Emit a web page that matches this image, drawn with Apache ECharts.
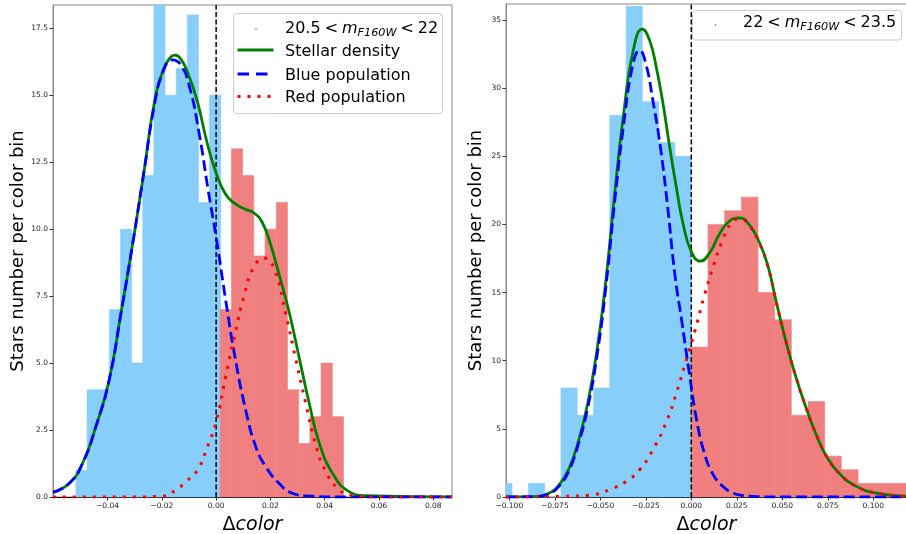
<!DOCTYPE html>
<html><head><meta charset="utf-8">
<script src="https://cdn.jsdelivr.net/npm/echarts@6/dist/echarts.min.js"></script>
<style>html,body{margin:0;padding:0;background:#fff}#c{width:906px;height:534px}</style>
</head><body><div id="c"></div>
<script>
// ---------- Left panel: 20.5 < m_F160W < 22 ----------
const leftBlueEdges = [-0.05165,-0.04755,-0.04344,-0.03934,-0.03523,-0.03113,-0.02703,-0.02292,-0.01882,-0.01471,-0.01061,-0.00651,-0.00240,0.00170];
const leftBlueCounts = [1,4,4,7,10,5,12,19,15,16,18,11,15];
const leftRedEdges = [0.0015,0.00563,0.00976,0.01389,0.01802,0.02215,0.02628,0.03041,0.03454,0.03867,0.0428,0.04693];
const leftRedCounts = [7,13,12,9,10,11,4,2,3,5,3];

const leftBlueCurveX = [-0.0601,-0.0541,-0.0492,-0.0443,-0.0394,-0.0350,-0.0310,-0.0265,-0.0228,-0.0195,-0.0161,-0.0130,-0.0099,-0.0063,-0.0030,0.0000,0.0036,0.0070,0.0110,0.0146,0.0183,0.0232,0.0281,0.035,0.045,0.0869];
const leftBlueCurveY = [0.17,0.51,1.26,2.63,4.37,6.9,9.3,12.2,14.6,15.9,16.32,16.13,15.35,13.6,11.5,9.7,7.3,5.2,3.2,1.88,1.13,0.51,0.14,0.03,0.0,0.0];

const leftRedCurveX = [-0.0601,-0.030,-0.0198,-0.0150,-0.0112,-0.0069,-0.0032,0.0000,0.0035,0.0070,0.0105,0.0140,0.0177,0.0215,0.0257,0.0294,0.0330,0.0367,0.0404,0.0453,0.050,0.060,0.0869];
const leftRedCurveY = [0.0,0.0,0.03,0.25,0.57,1.0,1.88,2.8,4.5,6.1,7.6,8.6,8.92,8.5,6.8,5.12,3.5,1.95,0.95,0.28,0.07,0.0,0.0];

const leftGreenCurveX = [-0.0601,-0.0541,-0.0492,-0.0443,-0.0394,-0.0350,-0.0310,-0.0265,-0.0228,-0.0195,-0.0170,-0.0152,-0.0130,-0.0105,-0.0070,-0.0035,0.0000,0.0035,0.0070,0.0105,0.0140,0.0170,0.0200,0.0232,0.0269,0.0306,0.0343,0.0379,0.0428,0.0490,0.055,0.0869];
const leftGreenCurveY = [0.17,0.51,1.26,2.63,4.37,6.9,9.3,12.2,14.7,15.95,16.4,16.5,16.35,15.85,14.8,13.3,12.1,11.3,10.95,10.75,10.6,10.25,9.45,8.3,6.9,5.2,3.5,2.05,0.9,0.2,0.05,0.0];

// ---------- Right panel: 22 < m_F160W < 23.5 ----------
const rightBlueEdges = [-0.1074,-0.0985,-0.0895,-0.0806,-0.0716,-0.0627,-0.0537,-0.0448,-0.0358,-0.0269,-0.0179,-0.0090,0.0];
const rightBlueCounts = [1,0,1,0,8,6,8,28,36,29,26,25];
const rightRedEdges = [0.0,0.00916,0.01832,0.02748,0.03664,0.0458,0.05496,0.06412,0.07328,0.08244,0.0916,0.10076,0.10992,0.11908];
const rightRedCounts = [11,20,21,22,15,13,6,7,3,2,1,1,1];

const rightBlueCurveX = [-0.1018,-0.0870,-0.0780,-0.0720,-0.0670,-0.0620,-0.0570,-0.0520,-0.0470,-0.0420,-0.0370,-0.0320,-0.0284,-0.0250,-0.0210,-0.0170,-0.0130,-0.0090,-0.0050,-0.0010,0.0030,0.0070,0.0110,0.0160,0.0220,0.0290,0.0380,0.050,0.1185];
const rightBlueCurveY = [0.0,0.02,0.25,0.9,2.0,3.9,6.5,10.2,15.3,21.8,27.5,31.8,32.77,31.8,29.0,25.7,21.3,16.3,12.7,9.0,5.6,3.3,1.9,0.95,0.35,0.1,0.02,0.0,0.0];

const rightRedCurveX = [-0.1018,-0.070,-0.054,-0.0449,-0.0357,-0.0284,-0.0211,-0.0137,-0.0082,-0.0027,0.0020,0.0070,0.0120,0.0170,0.0220,0.0265,0.0320,0.0375,0.0421,0.0467,0.0522,0.0577,0.0632,0.0687,0.0742,0.0815,0.0907,0.1016,0.1185];
const rightRedCurveY = [0.0,0.05,0.17,0.54,1.15,2.0,3.47,5.5,7.63,10.07,12.2,14.7,16.9,18.8,20.1,20.4,19.9,18.6,16.9,14.3,11.3,8.7,6.5,4.55,3.0,1.7,0.78,0.29,0.06];

const rightGreenCurveX = [-0.1018,-0.0870,-0.0780,-0.0720,-0.0670,-0.0620,-0.0570,-0.0520,-0.0470,-0.0420,-0.0370,-0.0320,-0.0269,-0.0229,-0.0192,-0.0156,-0.0119,-0.0082,-0.0046,0.0,0.0050,0.0100,0.0155,0.0210,0.0265,0.0320,0.0375,0.0421,0.0467,0.0522,0.0577,0.0632,0.0687,0.0742,0.0815,0.0907,0.1016,0.1185];
const rightGreenCurveY = [0.0,0.03,0.3,1.0,2.15,4.1,6.8,10.6,15.8,22.4,28.3,32.7,34.33,33.5,31.5,28.9,25.7,22.7,20.1,18.0,17.3,17.9,19.3,20.25,20.47,19.95,18.65,16.95,14.3,11.3,8.7,6.5,4.55,3.0,1.7,0.78,0.29,0.06];

const leftXTicks = [-0.04,-0.02,0.00,0.02,0.04,0.06,0.08];
const rightXTicks = [-0.100,-0.075,-0.050,-0.025,0.000,0.025,0.050,0.075,0.100];
const divider = 0.0;
const leftYMax = 18.37, rightYMax = 36.17;

const FONT = 'DejaVu Sans';
function bins(edges, counts){ return counts.map((c,i)=>[edges[i], edges[i+1], c]); }
function pts(xs, ys){ return xs.map((x,i)=>[x, ys[i]]); }
function minusFmt(d){ return v => (v < -1e-12 ? '\u2212' : '') + Math.abs(v).toFixed(d); }

function renderBar(params, api){
  const x0 = api.value(0), x1 = api.value(1), h = api.value(2);
  const p0 = api.coord([x0, 0]), p1 = api.coord([x1, h]);
  const cs = params.coordSys;
  const shape = echarts.graphic.clipRectByRect(
    {x:p0[0], y:p1[1], width:p1[0]-p0[0], height:p0[1]-p1[1]},
    {x:cs.x, y:cs.y, width:cs.width, height:cs.height});
  const c = api.visual('color');
  return shape && {type:'rect', shape:shape, style:{fill:c, stroke:c, lineWidth:0.6}};
}

function xAxisCfg(idx, min, max, ticks, dec){
  return {type:'value', gridIndex:idx, min:min, max:max,
    name:'{d|\u0394}{c|color}', nameLocation:'middle', nameGap:14.5,
    nameTextStyle:{fontSize:19, color:'#000', fontFamily:FONT,
      rich:{d:{fontSize:19, fontFamily:FONT, color:'#000'}, c:{fontSize:19, fontFamily:FONT, fontStyle:'italic', color:'#000'}}},
    axisLine:{show:true, onZero:false, lineStyle:{color:'#000', width:1}},
    axisTick:{show:true, length:3.5, lineStyle:{color:'#000', width:0.8}, customValues:ticks},
    axisLabel:{fontSize:7.5, fontFamily:FONT, color:'#222', margin:5.5, customValues:ticks, formatter:minusFmt(dec)},
    splitLine:{show:false}};
}
function yAxisCfg(idx, max, interval, dec, gap){
  return {type:'value', gridIndex:idx, min:0, max:max, interval:interval,
    name:'Stars number per color bin', nameLocation:'middle', nameGap:gap,
    nameTextStyle:{fontSize:18, color:'#000', fontFamily:FONT},
    axisLine:{show:true, onZero:false, lineStyle:{color:'#888', width:1}},
    axisTick:{show:true, length:3.5, lineStyle:{color:'#000', width:0.8}},
    axisLabel:{fontSize:7.5, fontFamily:FONT, color:'#222', margin:5, showMaxLabel:false, formatter: v => v.toFixed(dec)},
    splitLine:{show:false}};
}

function histSeries(idx, data, color){
  return {type:'custom', xAxisIndex:idx, yAxisIndex:idx, renderItem:renderBar,
    encode:{x:[0,1], y:2}, itemStyle:{color:color}, data:data, z:1, silent:true};
}
function curve(idx, data, color, type, width, z){
  return {type:'line', xAxisIndex:idx, yAxisIndex:idx, data:data, symbol:'none', smooth:0.5,
    lineStyle:{color:color, width:width, type:type, cap:'butt'}, z:z, silent:true, clip:true};
}
function divLine(idx, ymax){
  return {type:'line', xAxisIndex:idx, yAxisIndex:idx, data:[[divider,0],[divider,ymax]], symbol:'none', silent:true, z:3,
    lineStyle:{color:'#000', width:1.5, type:[5,2.5]}};
}

const legendRich = {
  n:{fontSize:16, fontFamily:FONT, color:'#000'},
  m:{fontSize:16, fontFamily:FONT, fontStyle:'italic', color:'#000'},
  s:{fontSize:11.2, fontFamily:FONT, fontStyle:'italic', color:'#000', padding:[9,0,0,0]}
};
const SP = '\u2005';

const chart = echarts.init(document.getElementById('c'), null, {renderer:'canvas'});
chart.setOption({
  animation:false,
  backgroundColor:'#fff',
  grid:[
    {left:53, top:5, width:399, height:492, outerBoundsMode:'none', containLabel:false, show:true, borderColor:'#888', borderWidth:1, backgroundColor:'transparent'},
    {left:506, top:4, width:401, height:493, outerBoundsMode:'none', containLabel:false, show:true, borderColor:'#888', borderWidth:1, backgroundColor:'transparent'}
  ],
  xAxis:[ xAxisCfg(0, -0.0601, 0.0869, leftXTicks, 2), xAxisCfg(1, -0.1018, 0.1185, rightXTicks, 3) ],
  yAxis:[ yAxisCfg(0, leftYMax, 2.5, 1, 25.5), yAxisCfg(1, rightYMax, 5, 0, 20.5) ],
  series:[
    histSeries(0, bins(leftBlueEdges, leftBlueCounts), '#87CEFA'),
    histSeries(0, bins(leftRedEdges, leftRedCounts), '#F08080'),
    divLine(0, leftYMax),
    curve(0, pts(leftGreenCurveX, leftGreenCurveY), '#008000', 'solid', 2.8, 4),
    curve(0, pts(leftBlueCurveX, leftBlueCurveY), '#0000FF', [11,4.8], 2.8, 5),
    curve(0, pts(leftRedCurveX, leftRedCurveY), '#FF0000', [3,7], 3, 6),
    histSeries(1, bins(rightBlueEdges, rightBlueCounts), '#87CEFA'),
    histSeries(1, bins(rightRedEdges, rightRedCounts), '#F08080'),
    divLine(1, rightYMax),
    curve(1, pts(rightGreenCurveX, rightGreenCurveY), '#008000', 'solid', 2.8, 4),
    curve(1, pts(rightBlueCurveX, rightBlueCurveY), '#0000FF', [11,4.8], 2.8, 5),
    curve(1, pts(rightRedCurveX, rightRedCurveY), '#FF0000', [3,7], 3, 6)
  ],
  graphic:[
    // left legend
    {type:'rect', left:233, top:13, z:100, shape:{width:209, height:100, r:3}, style:{fill:'rgba(255,255,255,0.85)', stroke:'#cccccc', lineWidth:1}},
    {type:'circle', z:101, shape:{cx:256, cy:29, r:0.8}, style:{fill:'#1f77b4'}},
    {type:'text', z:101, left:285, top:20.5, style:{text:'{n|20.5'+SP+'<'+SP+'}{m|m}{s|F160W}{n|'+SP+'<'+SP+'22}', rich:legendRich}},
    {type:'line', z:101, shape:{x1:237.5, y1:50, x2:273.5, y2:50}, style:{stroke:'#008000', lineWidth:3}},
    {type:'text', z:101, left:285, top:43.5, style:{text:'Stellar density', font:'16px "DejaVu Sans"', fill:'#000'}},
    {type:'line', z:101, shape:{x1:237.5, y1:74, x2:273.5, y2:74}, style:{stroke:'#0000FF', lineWidth:3, lineDash:[11.5,7]}},
    {type:'text', z:101, left:285, top:67.5, style:{text:'Blue population', font:'16px "DejaVu Sans"', fill:'#000'}},
    {type:'line', z:101, shape:{x1:237.5, y1:96.5, x2:273.5, y2:96.5}, style:{stroke:'#FF0000', lineWidth:3, lineDash:[3,7]}},
    {type:'text', z:101, left:285, top:90, style:{text:'Red population', font:'16px "DejaVu Sans"', fill:'#000'}},
    // right legend
    {type:'rect', left:692, top:10, z:100, shape:{width:209, height:29.5, r:3}, style:{fill:'rgba(255,255,255,0.85)', stroke:'#cccccc', lineWidth:1}},
    {type:'circle', z:101, shape:{cx:715.5, cy:25, r:0.8}, style:{fill:'#1f77b4'}},
    {type:'text', z:101, left:743, top:15, style:{text:'{n|22'+SP+'<'+SP+'}{m|m}{s|F160W}{n|'+SP+'<'+SP+'23.5}', rich:legendRich}}
  ]
});
</script></body></html>
